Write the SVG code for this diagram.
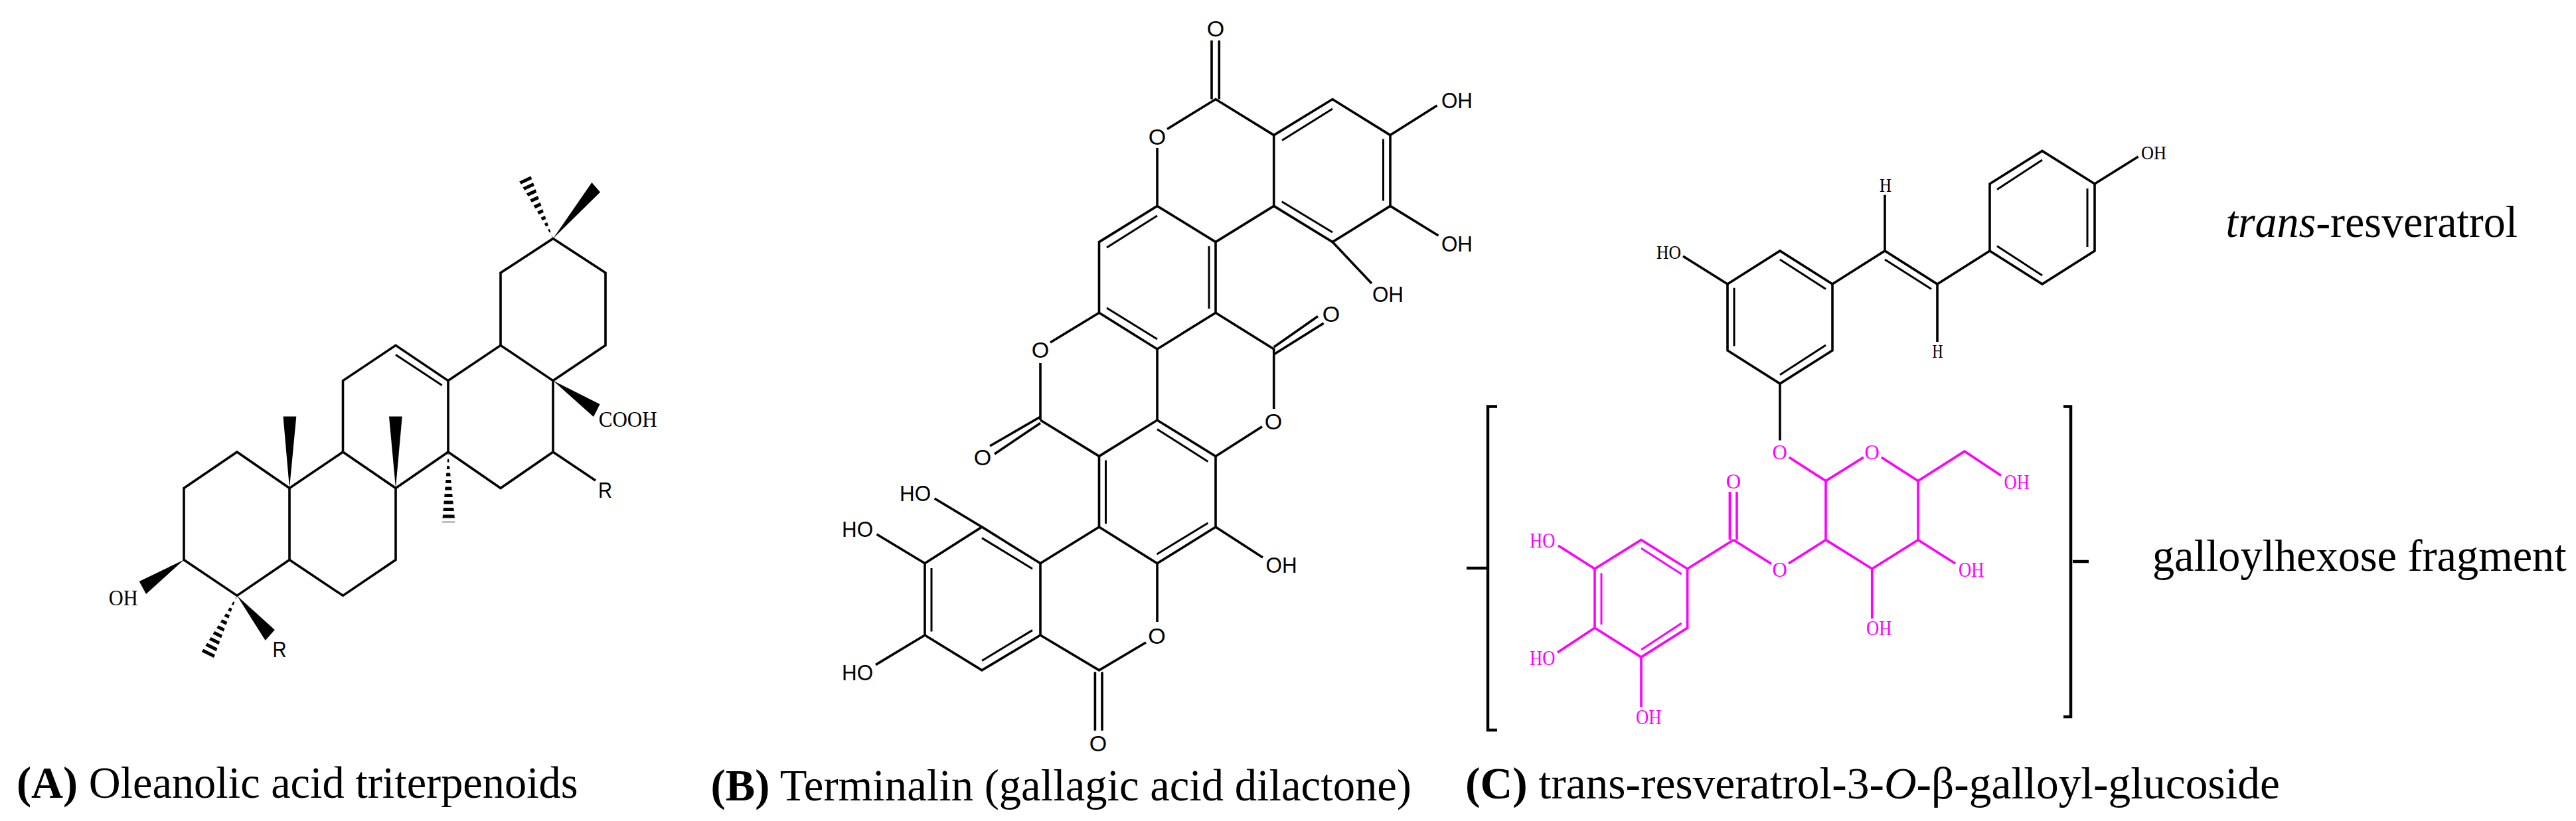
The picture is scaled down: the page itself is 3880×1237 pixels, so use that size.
<svg xmlns="http://www.w3.org/2000/svg" width="3880" height="1237" viewBox="0 0 3880 1237">
<style>
.b{fill:none;stroke:#000;stroke-width:3.6;stroke-linejoin:miter;stroke-linecap:butt}
.m{fill:none;stroke:#f0f;stroke-width:3.6;stroke-linecap:butt}
.i{stroke-width:3}
.br{fill:none;stroke:#000;stroke-width:4.5}
.w{fill:#000;stroke:none}
.h{stroke:#000;stroke-width:26;stroke-dasharray:5 5.5;fill:none}
.s{font-family:"Liberation Sans",Arial,sans-serif;font-size:34px;fill:#000}
.t{font-family:"Liberation Serif","Times New Roman",serif;font-size:34px;fill:#000}
.tm{fill:#f0f;font-size:31px}
.sm{font-size:29px}
.c{font-family:"Liberation Serif","Times New Roman",serif;font-size:68px;fill:#000}
</style>
<defs>
<clipPath id="h1"><polygon points="833,359.5 780.5,270.5 798,261"/></clipPath>
<clipPath id="h2"><polygon points="675,681 666,787 685.5,787"/></clipPath>
<clipPath id="h3"><polygon points="357,897.4 302.8,983.5 320,996.7"/></clipPath>
</defs>
<rect width="3880" height="1237" fill="#fff"/>

<g id="connectors">
<g id="compound-a-bonds">
<path class="b" d="M277,735.5L357,681L436,735.5L436,843.5L357,897.4L277,843.5Z"/>
<path class="b" d="M436,735.5L516.5,681L596,735.5L596,843.5L516.5,897.4L436,843.5"/>
<path class="b" d="M516.5,681V573.6L596,520.3L675,573.6V681L596,735.5"/>
<path class="b i" d="M596,534.6L665.7,580.5"/>
<path class="b" d="M675,573.6L754,520.3L833,573.6V681L754,735.5L675,681"/>
<path class="b" d="M754,520.3V411L833,359.5L912,411V520.3L833,573.6"/>
<path class="b" d="M833,681L897,724"/>
<polygon class="w" points="833,573.6 903.6,609 894,628"/>
<polygon class="w" points="833,359.5 891.4,275 904,289.5"/>
<polygon class="w" points="436,735.5 426.5,627.6 446.3,627.6"/>
<polygon class="w" points="596,735.5 586,627.6 605.7,627.6"/>
<polygon class="w" points="277,843.5 209.7,876 220,895"/>
<polygon class="w" points="357,897.4 413.8,949 399.7,965"/>
<g clip-path="url(#h1)"><path class="h" d="M833,359.5L789,265"/></g>
<g clip-path="url(#h2)"><path class="h" stroke-dasharray="5 6" d="M675.5,681V787"/></g>
<g clip-path="url(#h3)"><path class="h" d="M357,897.4L311,990"/></g>
</g>

<g id="compound-b-bonds">
<path class="b" d="M1825,61V149.5M1836.3,61V149.5"/>
<path class="b" d="M1758,194.5L1831,149.5L1918.7,203.6"/>
<path class="b" d="M1743,223V310.4"/>
<path class="b" d="M1918.7,203.6L2007,149.5L2094,203.6V310.4L2007,364.6L1918.7,310.4Z"/>
<path class="b i" d="M1931,211.5L2007,164M2083.5,209.6V302.5M1930.7,303.7L2007,350"/>
<path class="b" d="M2094,203.6L2164.5,159M2094,310.4L2166.5,355M2007,364.6L2066,427"/>
<path class="b" d="M1918.7,310.4L1831,364.6L1743,310.4L1655.5,364.6V471.3L1743,526L1831,471.3V364.6"/>
<path class="b i" d="M1743,325L1667,373M1821,371V465M1667,464L1743,511"/>
<path class="b" d="M1831,471.3L1918.7,526V616"/>
<path class="b" d="M1918.7,523L1985,476.5M1918.7,534L1993.7,487"/>
<path class="b" d="M1743,526V633"/>
<path class="b" d="M1655.5,471.3L1582,516M1567,547V633"/>
<path class="b" d="M1567,628L1491,672M1567,637.4L1498,684"/>
<path class="b" d="M1567,633L1655.5,687.4"/>
<path class="b" d="M1655.5,687.4L1743,633L1831,687.4V794L1743,848.8L1655.5,794Z"/>
<path class="b i" d="M1743,646.7L1819.5,695.5M1665.5,693.5V789M1819.5,788L1742.5,835"/>
<path class="b" d="M1831,687.4L1901,642.7M1831,794L1902,840M1743,848.8V937"/>
<path class="b" d="M1726,968L1655.5,1009.8L1567,957"/>
<path class="b" d="M1649.4,1012.6V1100.8M1660,1012.6V1100.8"/>
<path class="b" d="M1567,957L1479,1009.8L1393,957V848.8L1479,794L1567,848.8Z"/>
<path class="b i" d="M1555,949.6L1479,995.5M1403,856V951.6M1479,810.6L1555,857"/>
<path class="b" d="M1567,848.8L1655.5,794"/>
<path class="b" d="M1479,794L1407.6,751M1393,848.8L1320.6,805M1393,957L1319,1001.6"/>
</g>

<g id="compound-c-bonds">
<path class="b" d="M2602,428L2681,378L2760,428V528L2681,578L2602,528Z"/>
<path class="b i" d="M2681,391L2750,435.4M2612,433.7V521.6M2750,520L2681,564.7"/>
<path class="b" d="M2760,428L2839,378L2918,428L2997,378"/>
<path class="b i" d="M2839,391L2909,435.4"/>
<path class="b" d="M2839,378V293.8M2918,428V515"/>
<path class="b" d="M2997,378V277L3076,227.4L3155,277V378L3076,428Z"/>
<path class="b i" d="M3008,285.5L3076,241M3144,284V372M3076,415L3008,370.7"/>
<path class="b" d="M3155,277L3220.6,236M2602,428L2535,386M2681,578V663.6"/>
<path class="m" d="M2694.7,689L2750,724.5L2807,689M2833.7,689L2889,724.5L2959,680L3014,716.5"/>
<path class="m" d="M2750,724.5V813.4L2819.7,857L2889,813.4V724.5"/>
<path class="m" d="M2889,813.4L2945,849M2819.7,857V932M2750,813.4L2694,849M2668,849.6L2611,813.4"/>
<path class="m" d="M2605.4,741V813.4M2616,741V813.4"/>
<path class="m" d="M2611,813.4L2541.6,857L2472,813.4L2402,857V946L2472,990L2541.6,946V857"/>
<path class="m i" d="M2472,826L2532.7,865M2412,863.5V941M2532.7,939L2472,979"/>
<path class="m" d="M2402,857L2347,822M2402,946L2346,983M2472,990V1065"/>
</g>

<g id="brackets">
<path class="br" d="M2255,612.4H2241V1100H2255M2209,856H2241"/>
<path class="br" d="M3108,612.4H3119V1080H3108M3122,846H3146"/>
</g>
</g>

<g id="compound-a-labels">
<text class="t" x="163.8" y="912" textLength="44" lengthAdjust="spacingAndGlyphs">OH</text>
<text class="t" x="901.7" y="642.5" textLength="88" lengthAdjust="spacingAndGlyphs">COOH</text>
<text class="s" x="901" y="750" textLength="21" lengthAdjust="spacingAndGlyphs">R</text>
<text class="s" x="410.6" y="990" textLength="21" lengthAdjust="spacingAndGlyphs">R</text>
</g>

<g id="compound-b-labels">
<g class="s" text-anchor="middle">
<text x="1831" y="55">O</text>
<text x="1743" y="218">O</text>
<text x="2005" y="485">O</text>
<text x="1567" y="539">O</text>
<text x="1480" y="701">O</text>
<text x="1918" y="647">O</text>
<text x="1742.5" y="970">O</text>
<text x="1654" y="1132">O</text>
</g>
<text class="s" x="2171" y="163" textLength="47" lengthAdjust="spacingAndGlyphs">OH</text>
<text class="s" x="2171" y="379" textLength="47" lengthAdjust="spacingAndGlyphs">OH</text>
<text class="s" x="2067" y="455" textLength="47" lengthAdjust="spacingAndGlyphs">OH</text>
<text class="s" x="1906.6" y="863" textLength="47" lengthAdjust="spacingAndGlyphs">OH</text>
<text class="s" x="1355" y="755" textLength="47" lengthAdjust="spacingAndGlyphs">HO</text>
<text class="s" x="1268" y="809" textLength="47" lengthAdjust="spacingAndGlyphs">HO</text>
<text class="s" x="1268" y="1025" textLength="47" lengthAdjust="spacingAndGlyphs">HO</text>
</g>

<g id="compound-c-labels">
<text class="t sm" x="3225" y="240" textLength="38" lengthAdjust="spacingAndGlyphs">OH</text>
<text class="t sm" x="2495" y="390" textLength="37" lengthAdjust="spacingAndGlyphs">HO</text>
<text class="t sm" x="2831" y="289" textLength="18" lengthAdjust="spacingAndGlyphs">H</text>
<text class="t sm" x="2910.6" y="539" textLength="16" lengthAdjust="spacingAndGlyphs">H</text>
<g class="t tm" text-anchor="middle">
<text x="2680.6" y="692">O</text>
<text x="2819.7" y="692">O</text>
<text x="2611" y="736">O</text>
<text x="2680.6" y="869">O</text>
</g>
<text class="t tm" x="3018.6" y="736.5" textLength="38.5" lengthAdjust="spacingAndGlyphs">OH</text>
<text class="t tm" x="2950" y="869" textLength="38.5" lengthAdjust="spacingAndGlyphs">OH</text>
<text class="t tm" x="2811" y="957" textLength="38.5" lengthAdjust="spacingAndGlyphs">OH</text>
<text class="t tm" x="2304" y="825" textLength="38.5" lengthAdjust="spacingAndGlyphs">HO</text>
<text class="t tm" x="2304" y="1002" textLength="38.5" lengthAdjust="spacingAndGlyphs">HO</text>
<text class="t tm" x="2464" y="1090.5" textLength="38.5" lengthAdjust="spacingAndGlyphs">OH</text>
</g>

<g id="captions">
<text class="c" x="25" y="1201.7" textLength="845.6" lengthAdjust="spacingAndGlyphs"><tspan font-weight="bold">(A)</tspan> Oleanolic acid triterpenoids</text>
<text class="c" x="1070.6" y="1206" textLength="1055.4" lengthAdjust="spacingAndGlyphs"><tspan font-weight="bold">(B)</tspan> Terminalin (gallagic acid dilactone)</text>
<text class="c" x="2207" y="1203" textLength="1227" lengthAdjust="spacingAndGlyphs"><tspan font-weight="bold">(C)</tspan> trans-resveratrol-3-<tspan font-style="italic">O</tspan>-β-galloyl-glucoside</text>
<text class="c" x="3352.6" y="357" textLength="439.4" lengthAdjust="spacingAndGlyphs"><tspan font-style="italic">trans</tspan>-resveratrol</text>
<text class="c" x="3242" y="860" textLength="623.6" lengthAdjust="spacingAndGlyphs">galloylhexose fragment</text>
</g>
</svg>
